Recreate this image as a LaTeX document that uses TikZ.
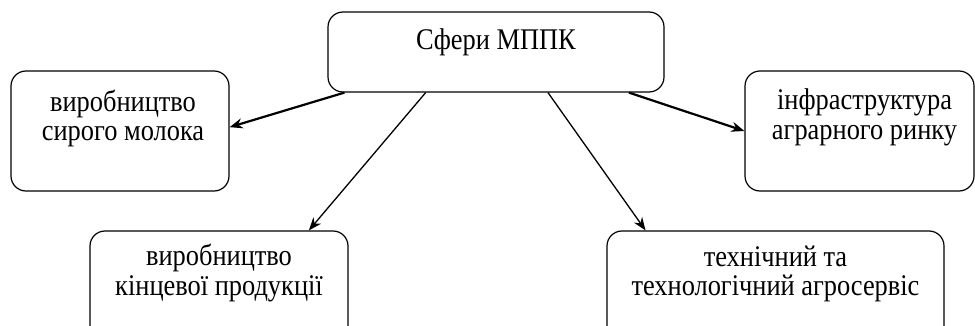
\documentclass[tikz,border=0pt]{standalone}
\usepackage{fontspec}
\setmainfont{Liberation Serif}[FakeStretch=0.88]
\usetikzlibrary{positioning,arrows.meta}

\begin{document}
\begin{tikzpicture}[on grid,
    sfera/.style={draw, line width=1.2pt, rounded corners=15pt},
    txt/.style={on grid=false, align=center, inner sep=0pt, font=\fontsize{30}{29.5}\selectfont},
    tonke/.style={line width=1.3pt, -{Stealth[length=13pt,width=10pt]}},
    tovste/.style={line width=2.2pt, -{Stealth[length=13pt,width=10pt]}}]
   \useasboundingbox (0,0) rectangle (975pt,-326pt);
   \node[sfera, minimum width=336pt, minimum height=80pt] (sfery) at (496pt,-52pt) {};
   \node[sfera, minimum width=218pt, minimum height=120pt] (moloko) [below left=79pt and 376pt of sfery] {};
   \node[sfera, minimum width=229pt, minimum height=120pt] (infra) [below right=79pt and 363.5pt of sfery] {};
   \node[sfera, minimum width=258pt, minimum height=120pt] (kinc) [below left=239pt and 277pt of sfery] {};
   \node[sfera, minimum width=337pt, minimum height=120pt] (tekh) [below right=239pt and 279.5pt of sfery] {};

   \node[txt] (sferyT) [below=17pt of sfery.north] {Сфери МППК};
   \node[txt, xshift=3pt] (molokoT) [below=19pt of moloko.north] {виробництво\\сирого молока};
   \node[txt, xshift=5pt] (infraT) [below=18.5pt of infra.north] {інфраструктура\\аграрного ринку};
   \node[txt] (kincT) [below=13.5pt of kinc.north] {виробництво\\кінцевої продукції};
   \node[txt] (tekhT) [below=15pt of tekh.north] {технічний та\\технологічний агросервіс};

    \path[tovste]
    (sfery.-165) edge (moloko.2)
    (sfery.-17) edge (infra.west);
    \path[tonke]
    (sfery.-150) edge (kinc.34)
    (sfery.-38) edge (tekh.155);
\end{tikzpicture}
\end{document}
